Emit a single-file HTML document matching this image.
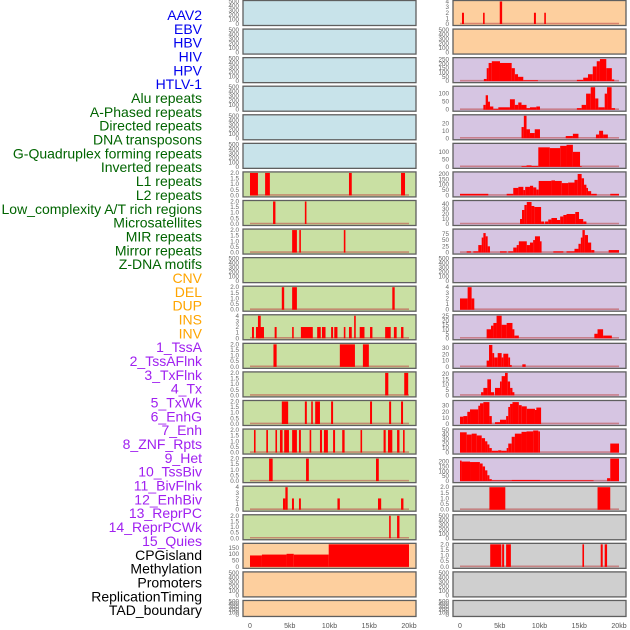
<!DOCTYPE html>
<html><head><meta charset="utf-8"><style>
html,body{margin:0;padding:0;background:#fff;width:630px;height:630px;overflow:hidden}
svg{display:block;font-family:"Liberation Sans",sans-serif}
</style></head><body>
<svg id="chart" width="630" height="630" viewBox="0 0 630 630" xmlns="http://www.w3.org/2000/svg"></svg>
<script>
const trackLabels=["AAV2","EBV","HBV","HIV","HPV","HTLV-1","Alu repeats","A-Phased repeats","Directed repeats","DNA transposons","G-Quadruplex forming repeats","Inverted repeats","L1 repeats","L2 repeats","Low_complexity A/T rich regions","Microsatellites","MIR repeats","Mirror repeats","Z-DNA motifs","CNV","DEL","DUP","INS","INV","1_TssA","2_TssAFlnk","3_TxFlnk","4_Tx","5_TxWk","6_EnhG","7_Enh","8_ZNF_Rpts","9_Het","10_TssBiv","11_BivFlnk","12_EnhBiv","13_ReprPC","14_ReprPCWk","15_Quies","CPGisland","Methylation","Promoters","ReplicationTiming","TAD_boundary"];
const labelColors=["#0000ee","#0000ee","#0000ee","#0000ee","#0000ee","#0000ee","#006400","#006400","#006400","#006400","#006400","#006400","#006400","#006400","#006400","#006400","#006400","#006400","#006400","#ffa500","#ffa500","#ffa500","#ffa500","#ffa500","#a020f0","#a020f0","#a020f0","#a020f0","#a020f0","#a020f0","#a020f0","#a020f0","#a020f0","#a020f0","#a020f0","#a020f0","#a020f0","#a020f0","#a020f0","#000","#000","#000","#000","#000"];
const xTickValues=[0,5,10,15,20];
const xTickLabels=["0","5kb","10kb","15kb","20kb"];
const EMPTY_T=[0,100,200,300,400,500], BIN_T=[0,0.5,1,1.5,2], CNT_T=[0,1,2,3,4];
// left column segments [startKb,endKb,value]
const leftSegs=[[],[],[],[],[],[],
[[0,1,2],[1.9,2.5,2],[12.45,12.8,2],[19,19.5,2]],
[[2.9,3.2,2],[6.9,7.1,2]],
[[5.3,5.9,2],[6.2,6.4,2],[11.8,12,2]],
[],
[[4,4.3,2],[5.3,5.9,2],[17.9,18.2,2]],
[[0.25,0.5,2],[0.75,1.76,2],[1.0,1.35,4],[3.1,3.35,2],[5.3,5.5,2],[6.4,7.9,2],[8.45,8.9,2],[9.05,9.5,2],[10.2,10.45,2],[10.6,11.0,2],[11.8,12.0,2],[12.45,12.8,2],[13.1,13.3,4],[13.8,14.4,2],[15.1,15.4,2],[17.0,17.7,2],[18.1,18.45,2],[19.0,19.3,2]],
[[2.95,3.35,2],[11.3,13.2,2],[14.2,14.95,2]],
[[17,17.4,2],[19.4,19.9,2]],
[[4,4.8,2],[6.9,7.15,2],[7.7,7.9,2],[8.2,8.8,2],[10.2,10.45,2],[15.1,15.35,2],[17.5,17.75,2],[19,19.25,2]],
[[0.5,0.7,2],[2.05,2.26,2],[3.2,3.4,2],[3.77,4.1,2],[4.3,4.9,2],[5.3,5.9,2],[6.16,6.4,2],[7.5,7.7,2],[8.8,9.06,2],[9.3,9.8,2],[10.45,10.7,2],[11.6,11.9,2],[13.9,14.05,2],[16.8,17.07,2],[17.36,17.9,2],[18.5,18.8,2],[19.25,19.45,2]],
[[2.4,2.85,2],[7.05,7.4,2],[15.85,16.2,2]],
[[4.15,4.45,2],[4.45,4.74,4],[5.28,5.53,2],[6.16,6.4,2],[11.0,11.3,2],[16.1,16.5,2],[19.0,19.3,2]],
[[17.5,17.7,2],[18.5,18.8,2]],
[[0,1.5,90],[1.5,4.6,97],[4.6,5.5,103],[5.5,9.9,97],[9.9,20,200]],
[],[]];
const leftMax=[500,500,500,500,500,500,2,2,2,500,2,4,2,2,2,2,2,4,2,178,500,500];
const leftTicks=[EMPTY_T,EMPTY_T,EMPTY_T,EMPTY_T,EMPTY_T,EMPTY_T,BIN_T,BIN_T,BIN_T,EMPTY_T,BIN_T,CNT_T,BIN_T,BIN_T,BIN_T,BIN_T,BIN_T,CNT_T,BIN_T,[0,50,100,150],EMPTY_T,EMPTY_T];
const rightSegs=[
[[0.25,0.5,2],[2.9,3.1,2],[5.0,5.3,4],[9.3,9.55,2],[10.6,10.8,2]],
[],
[[3.0,3.36,25],[3.36,3.6,150],[3.6,4.0,210],[4.0,5.03,230],[5.03,6.5,210],[6.5,6.9,150],[6.9,7.3,80],[7.3,7.96,50],[7.96,9.8,10],[14.7,15.5,15],[15.5,16.1,40],[16.1,16.7,80],[16.7,17.2,170],[17.2,17.6,230],[17.6,18.4,255],[18.4,19.1,150],[19.1,19.4,20]],
[[2.94,3.23,30],[3.23,3.52,90],[3.52,3.77,50],[3.77,4.19,20],[4.19,4.82,5],[4.82,6.28,15],[6.28,6.9,65],[6.9,7.33,30],[7.33,7.74,45],[7.74,8.37,30],[8.37,8.8,10],[8.8,9.6,15],[9.6,10.06,20],[14.7,15.3,10],[15.3,15.86,30],[15.86,16.44,100],[16.44,17.0,140],[17.0,17.4,70],[17.4,18.2,15],[18.2,18.5,100],[18.5,19.07,140],[19.07,19.5,10]],
[[7.74,8.03,15],[8.03,8.37,30],[8.37,8.8,12],[8.8,9.4,7],[9.4,10.06,12],[13.3,14.2,3],[14.2,14.9,6],[17.1,17.5,5],[17.5,18.0,10],[18.0,18.6,5]],
[[7.74,8.37,5],[8.37,9.0,10],[9.0,9.85,6],[9.85,11.3,130],[11.3,12.6,125],[12.6,13.4,140],[13.4,14.2,147],[14.2,15.1,100],[15.1,15.3,5]],
[[0,3.56,15],[5.87,6.7,15],[6.7,7.34,70],[7.34,7.97,80],[7.97,8.2,50],[8.2,8.8,80],[8.8,9.2,90],[9.2,9.6,75],[9.6,9.9,55],[9.9,11.5,135],[11.5,11.95,140],[11.95,12.8,135],[12.8,13.6,115],[13.6,14.4,120],[14.4,14.8,145],[14.8,15.3,200],[15.3,15.6,160],[15.6,15.9,100],[15.9,16.1,70],[16.1,16.5,40],[16.5,17.2,15],[18.9,20,15]],
[[7.55,7.8,10],[7.8,8.1,28],[8.1,8.4,38],[8.4,9.0,44],[9.0,9.35,36],[9.35,10.2,34],[10.2,10.6,5],[10.7,11.1,5],[11.1,11.5,9],[11.5,12.2,12],[12.2,12.6,8],[12.6,13.0,15],[13.0,13.4,18],[13.4,14.5,20],[14.5,14.97,24],[14.97,15.5,10],[15.5,15.9,5]],
[[0.84,1.38,5],[1.68,2.3,5],[2.3,2.73,30],[2.73,2.94,60],[2.94,3.23,78],[3.23,3.48,65],[3.48,3.77,25],[5.03,5.87,5],[6.07,6.7,5],[6.7,7.13,20],[7.13,7.4,30],[7.4,8.4,45],[8.4,8.8,30],[8.8,9.2,40],[9.2,9.43,50],[9.43,10.06,65],[10.06,10.2,45],[11.74,13.0,5],[13.4,14.4,5],[14.4,14.9,15],[14.9,15.2,35],[15.2,15.4,60],[15.4,15.7,90],[15.7,16.1,70],[16.1,16.5,40],[16.5,16.9,10],[18.7,20,10]],
[],
[[0,0.96,2],[0.96,1.46,4],[1.46,1.8,2]],
[[3.35,3.9,10],[3.9,4.2,14],[4.2,4.6,17],[4.6,5.24,25],[5.24,5.87,15],[5.87,6.6,17],[6.6,6.84,10],[6.84,7.4,3],[16.9,17.3,5],[17.3,18.0,10],[18.0,19.1,3]],
[[3.35,3.65,10],[3.65,4.07,35],[4.07,4.3,22],[4.3,4.74,15],[4.74,5.24,22],[5.24,5.45,15],[5.45,6.07,21],[6.07,6.3,15],[6.3,6.5,3],[7.84,8.26,4]],
[[2.65,2.94,3],[2.94,3.44,7],[3.44,3.9,15],[3.9,4.3,3],[4.4,5.03,7],[5.03,5.24,13],[5.24,5.66,18],[5.66,6.0,21],[6.0,6.3,13],[6.3,6.6,7],[6.6,6.84,3]],
[[0,0.42,12],[0.42,0.92,13],[0.92,1.26,20],[1.26,2.3,24],[2.3,2.52,30],[2.52,2.94,34],[2.94,3.7,36],[3.7,4.0,13],[4.4,5.03,3],[5.03,5.8,7],[5.8,6.07,13],[6.07,6.3,28],[6.3,6.6,33],[6.6,7.4,36],[7.4,7.76,31],[7.76,8.4,29],[8.4,9.43,25],[9.43,9.6,23],[9.6,10.2,27]],
[[0,0.84,45],[0.84,1.47,40],[1.47,2.1,42],[2.1,2.73,38],[2.73,3.15,32],[3.15,3.44,25],[3.44,3.7,18],[3.7,4.0,10],[4.0,4.8,4],[4.8,5.2,5],[5.2,5.87,4],[5.87,6.07,10],[6.07,6.5,20],[6.5,6.9,35],[6.9,7.74,42],[7.74,8.37,46],[8.37,9.2,47],[9.2,9.85,49],[9.85,10.06,47],[18.9,20,20]],
[[0,0.2,210],[0.2,1.26,200],[1.26,2.5,195],[2.5,2.85,180],[2.85,3.15,150],[3.15,3.44,110],[3.44,3.7,60],[3.7,4.0,20],[4.0,6.5,8],[6.5,10.06,12],[10.06,16.8,8],[18.5,18.9,30],[18.9,20,230]],
[[3.7,5.7,2],[17.3,18.9,2]],
[],
[[3.8,5.2,2],[5.3,5.55,2],[5.8,6.4,2],[15.4,15.6,2],[17.7,17.95,2],[18.2,18.5,2]],
[],[]];
const rightMax=[4,500,260,140,30,150,210,45,90,500,4,25,36,21,37,50,230,2,500,2,500,500];
const rightTicks=[CNT_T,EMPTY_T,[0,50,100,150,200,250],[0,50,100],[0,10,20],[0,50,100],[0,50,100,150,200],[0,10,20,30,40],[0,25,50,75],EMPTY_T,CNT_T,[0,5,10,15,20,25],[0,10,20,30],[0,5,10,15,20],[0,10,20,30],[0,10,20,30,40,50],[0,50,100,150,200],BIN_T,EMPTY_T,BIN_T,EMPTY_T,EMPTY_T];
const leftBg=["#c8e3ea","#c8e3ea","#c8e3ea","#c8e3ea","#c8e3ea","#c8e3ea","#c9e0a3","#c9e0a3","#c9e0a3","#c9e0a3","#c9e0a3","#c9e0a3","#c9e0a3","#c9e0a3","#c9e0a3","#c9e0a3","#c9e0a3","#c9e0a3","#c9e0a3","#fdcf9e","#fdcf9e","#fdcf9e"];
const rightBg=["#fdcf9e","#fdcf9e","#d6c5e2","#d6c5e2","#d6c5e2","#d6c5e2","#d6c5e2","#d6c5e2","#d6c5e2","#d6c5e2","#d6c5e2","#d6c5e2","#d6c5e2","#d6c5e2","#d6c5e2","#d6c5e2","#d6c5e2","#cfcfcf","#cfcfcf","#cfcfcf","#cfcfcf","#cfcfcf"];

const svg=document.getElementById('chart');
const NS='http://www.w3.org/2000/svg';
function mk(tag,attrs,parent){const e=document.createElementNS(NS,tag);for(const k in attrs)e.setAttribute(k,attrs[k]);(parent||svg).appendChild(e);return e;}
// labels
trackLabels.forEach((t,i)=>{
  const e=mk('text',{x:202,y:15+i*13.84+5,'text-anchor':'end','font-size':14,fill:labelColors[i]});
  e.textContent=t;
  
  
});
const PX_PER_KB=7.95;
function fmt(v,ticks){return ticks===BIN_T?v.toFixed(1):String(v);}
function drawColumn(colX,zeroX,segsArr,maxArr,ticksArr,bgArr,side){
  const xs=kb=>zeroX+kb*PX_PER_KB;
  for(let r=0;r<22;r++){
    const top=0.5+r*28.57, h=(r===21?16:25);
    const g=mk('g',{});
    
    
    mk('rect',{x:colX,y:top,width:173,height:h,fill:bgArr[r],stroke:'#5f5f5f','stroke-width':1.3},g);
    const y0=top+h-1.5, yt=top+1;
    const ys=v=>y0-Math.min(v,maxArr[r])/maxArr[r]*(y0-yt);
    ticksArr[r].forEach(tv=>{
      const t=mk('text',{x:colX-4,y:ys(tv)+2,'text-anchor':'end','font-size':6.3,fill:'#666'},g);
      t.textContent=fmt(tv,ticksArr[r]);
      
      
    });
    const segs=segsArr[r];
    if(segs.length){
      const bl=mk('line',{x1:xs(0),x2:xs(20),y1:y0-0.5,y2:y0-0.5,stroke:'rgba(190,70,70,0.55)','stroke-width':1.6},g);
      
      
      segs.forEach(s=>{
        const x1=xs(s[0]),x2=xs(s[1]);
        const w=Math.max(x2-x1,1.6);
        const b=mk('rect',{x:x1,y:ys(s[2]),width:w,height:y0-ys(s[2]),fill:'#ff0000'},g);
        
        
      });
    }
  }
  xTickValues.forEach((v,i)=>{
    const t=mk('text',{x:xs(v),y:628,'text-anchor':'middle','font-size':7,fill:'#555'});
    t.textContent=xTickLabels[i];
    
    
  });
}
drawColumn(243,250,leftSegs,leftMax,leftTicks,leftBg,'left');
drawColumn(453,460,rightSegs,rightMax,rightTicks,rightBg,'right');
</script>
</body></html>
